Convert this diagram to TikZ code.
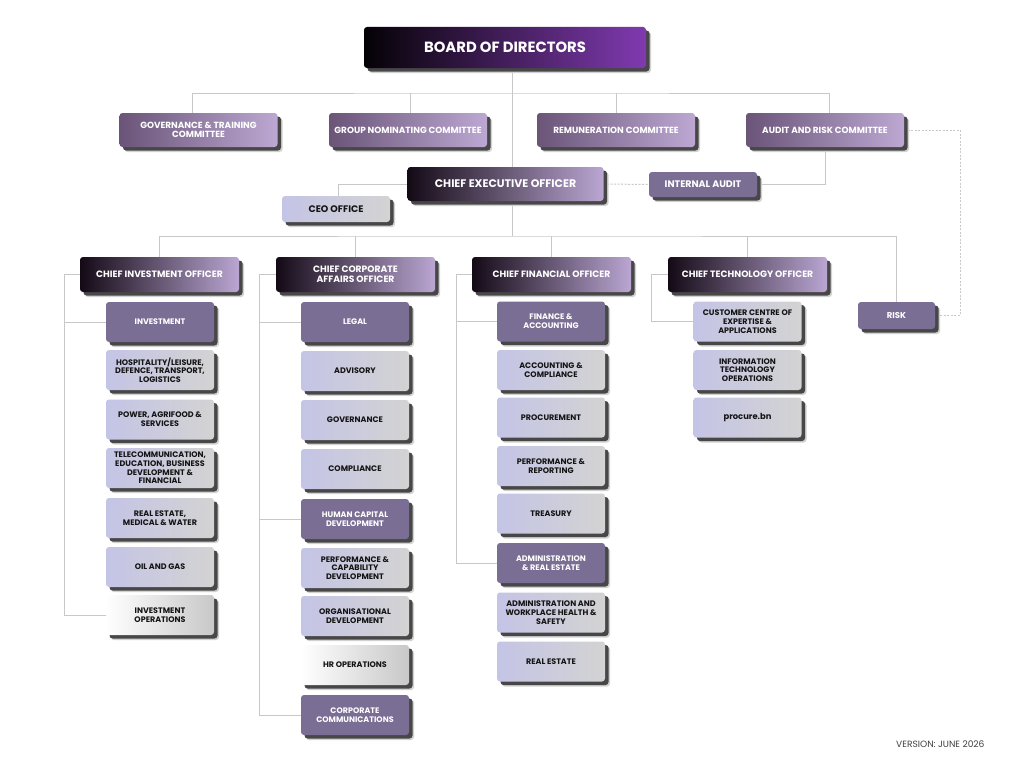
\documentclass[tikz,border=0pt]{standalone}
\usepackage{fontspec}
\setmainfont{Poppins}
\usetikzlibrary{shadows,backgrounds}
\definecolor{bdL}{RGB}{5,2,6}
\definecolor{bdR}{RGB}{128,58,176}
\definecolor{cmL}{RGB}{106,84,120}
\definecolor{cmR}{RGB}{188,168,210}
\definecolor{chL}{RGB}{20,10,22}
\definecolor{chR}{RGB}{186,166,210}
\definecolor{dk}{RGB}{122,110,148}
\definecolor{ltL}{RGB}{196,196,230}
\definecolor{ltR}{RGB}{211,211,211}
\definecolor{whR}{RGB}{200,200,200}
\definecolor{ln}{RGB}{200,200,200}
\definecolor{tx}{RGB}{20,20,20}
\tikzset{
  base/.style={rounded corners=3pt, inner sep=0pt, align=center,
    general shadow={shadow xshift=5pt, shadow yshift=-5pt, fill=black!18},
    general shadow={shadow xshift=3.5pt, shadow yshift=-3.5pt, fill=black!72}},
  wh/.style 2 args={minimum width=#1, minimum height=#2},
  boardbox/.style={base, left color=bdL, right color=bdR, text=white, wh={282pt}{41pt},
    font=\bfseries\fontsize{14.8}{17}\selectfont},
  combox/.style={base, left color=cmL, right color=cmR, text=white, wh={158pt}{34pt},
    font=\bfseries\fontsize{8.9}{9.4}\selectfont},
  chiefbox/.style={base, left color=chL, right color=chR, text=white, wh={159pt}{35pt},
    font=\bfseries\fontsize{9.2}{10}\selectfont},
  ceobox/.style={chiefbox, wh={196pt}{34pt}, font=\bfseries\fontsize{11}{12}\selectfont},
  small/.style={font=\bfseries\fontsize{8}{8.7}\selectfont},
  mid/.style={font=\bfseries\fontsize{9.5}{10}\selectfont},
  dkbox/.style={base, small, fill=dk, text=white, wh={108pt}{40pt}},
  ltbox/.style={base, small, left color=ltL, right color=ltR, text=tx, wh={108pt}{40pt}},
  whbox/.style={base, small, left color=white, right color=whR, text=tx, wh={108pt}{40pt}},
  conn/.style={draw=ln, line width=1pt},
  dconn/.style={conn, dash pattern=on 2pt off 1.5pt}
}
\begin{document}
\begin{tikzpicture}[x=1pt,y=-1pt]
\useasboundingbox (0,0) rectangle (1024,768);

\coordinate (trunk) at (512,93);
\coordinate (bus2) at (512,236);
\coordinate (rd) at (960,0);
\coordinate (s1) at (64,0);
\coordinate (s2) at (259,0);
\coordinate (s3) at (456,0);
\coordinate (s4) at (651,0);

\node[boardbox] (bod) at (505,47.5) {BOARD OF DIRECTORS};
\node[combox] (gov) at (198.5,130) {GOVERNANCE \& TRAINING\\COMMITTEE};
\node[combox] (nom) at (408,130) {GROUP NOMINATING COMMITTEE};
\node[combox] (rem) at (616,130) {REMUNERATION COMMITTEE};
\node[combox] (aud) at (825,130) {AUDIT AND RISK COMMITTEE};
\node[ceobox] (ceo) at (505.5,184) {CHIEF EXECUTIVE OFFICER};
\node[ltbox, mid, wh={108pt}{26pt}] (ceooff) at (336,209) {CEO OFFICE};
\node[dkbox, mid, wh={108pt}{25pt}] (ia) at (703,184.5) {INTERNAL AUDIT};

\node[chiefbox] (cio) at (159.5,274.5) {CHIEF INVESTMENT OFFICER};
\node[chiefbox] (ccao) at (355.5,274.5) {CHIEF CORPORATE\\AFFAIRS OFFICER};
\node[chiefbox] (cfo) at (551.5,274.5) {CHIEF FINANCIAL OFFICER};
\node[chiefbox] (cto) at (747.5,274.5) {CHIEF TECHNOLOGY OFFICER};
\node[dkbox, font=\bfseries\fontsize{8.5}{9}\selectfont, wh={77pt}{27pt}] (risk) at (896.5,315.5) {RISK};

% column 1
\node[dkbox] (inv) at (160,322) {INVESTMENT};
\node[ltbox] (hosp) at (160,370) {HOSPITALITY/LEISURE,\\DEFENCE, TRANSPORT,\\LOGISTICS};
\node[ltbox] (power) at (160,419.5) {POWER, AGRIFOOD \&\\SERVICES};
\node[ltbox] (tele) at (160,468) {TELECOMMUNICATION,\\EDUCATION, BUSINESS\\DEVELOPMENT \&\\FINANCIAL};
\node[ltbox] (realw) at (160,518) {REAL ESTATE,\\MEDICAL \& WATER};
\node[ltbox] (oil) at (160,567) {OIL AND GAS};
\node[whbox] (invops) at (160,615) {INVESTMENT\\OPERATIONS};

% column 2
\node[dkbox] (legal) at (355,322) {LEGAL};
\node[ltbox] (adv) at (355,371) {ADVISORY};
\node[ltbox] (gvn) at (355,420) {GOVERNANCE};
\node[ltbox] (comp) at (355,469) {COMPLIANCE};
\node[dkbox] (hcd) at (355,519) {HUMAN CAPITAL\\DEVELOPMENT};
\node[ltbox] (pcd) at (355,568) {PERFORMANCE \&\\CAPABILITY\\DEVELOPMENT};
\node[ltbox] (orgd) at (355,616) {ORGANISATIONAL\\DEVELOPMENT};
\node[whbox] (hrops) at (355,665) {HR OPERATIONS};
\node[dkbox] (cc) at (355,715) {CORPORATE\\COMMUNICATIONS};

% column 3
\node[dkbox] (fa) at (551,321.5) {FINANCE \&\\ACCOUNTING};
\node[ltbox] (acc) at (551,370) {ACCOUNTING \&\\COMPLIANCE};
\node[ltbox] (proc) at (551,417.5) {PROCUREMENT};
\node[ltbox] (perf) at (551,466) {PERFORMANCE \&\\REPORTING};
\node[ltbox] (treas) at (551,513.5) {TREASURY};
\node[dkbox] (are) at (551,563) {ADMINISTRATION\\\& REAL ESTATE};
\node[ltbox] (awhs) at (551,612.5) {ADMINISTRATION AND\\WORKPLACE HEALTH \&\\SAFETY};
\node[ltbox] (re) at (551,661.5) {REAL ESTATE};

% column 4
\node[ltbox] (ccea) at (747.5,321.5) {CUSTOMER CENTRE OF\\EXPERTISE \&\\APPLICATIONS};
\node[ltbox] (ito) at (747.5,370) {INFORMATION\\TECHNOLOGY\\OPERATIONS};
\node[ltbox, font=\bfseries\fontsize{8.4}{9}\selectfont] (pbn) at (747.5,417.5) {procure.bn};

\node[anchor=west, text=black!75, inner sep=0pt, font=\fontsize{9.1}{10}\selectfont] (ver) at (896,744) {VERSION: JUNE 2026};

\begin{scope}[on background layer]
\fill[white] (0,0) rectangle (1024,768);
% top trunk and committees
\draw[conn] (bod.south -| trunk) -- (ceo.north -| trunk);
\draw[conn] ([xshift=-6pt]gov.north) |- (trunk) -| ([xshift=4pt]aud.north);
\draw[conn] ([xshift=2pt]nom.north) -- ([xshift=2pt]nom.north |- trunk);
\draw[conn] (rem.north) -- (rem.north |- trunk);
% CEO
\draw[conn] (ceo.west) -| ([xshift=2pt]ceooff.north);
\draw[dconn] (ceo.east) -- (ia.west);
\draw[conn] (ia.east) -| (aud.south);
\draw[dconn] (aud.east) -- (aud.east -| rd) |- (risk.east);
% chiefs bus
\draw[conn] (ceo.south -| trunk) -- (bus2);
\draw[conn] (cio.north) |- (bus2) -| (risk.north);
\draw[conn] (ccao.north) -- (ccao.north |- bus2);
\draw[conn] (cfo.north) -- (cfo.north |- bus2);
\draw[conn] (cto.north) -- (cto.north |- bus2);
% column spines
\draw[conn] (cio.west) -- (cio.west -| s1) |- (invops.west);
\draw[conn] (inv.west -| s1) -- (inv.west);
\draw[conn] (ccao.west) -- (ccao.west -| s2) |- (cc.west);
\draw[conn] (legal.west -| s2) -- (legal.west);
\draw[conn] (hcd.west -| s2) -- (hcd.west);
\draw[conn] (cfo.west) -- (cfo.west -| s3) |- (are.west);
\draw[conn] (fa.west -| s3) -- (fa.west);
\draw[conn] (cto.west) -- (cto.west -| s4) |- (ccea.west);
\end{scope}
\end{tikzpicture}
\end{document}
